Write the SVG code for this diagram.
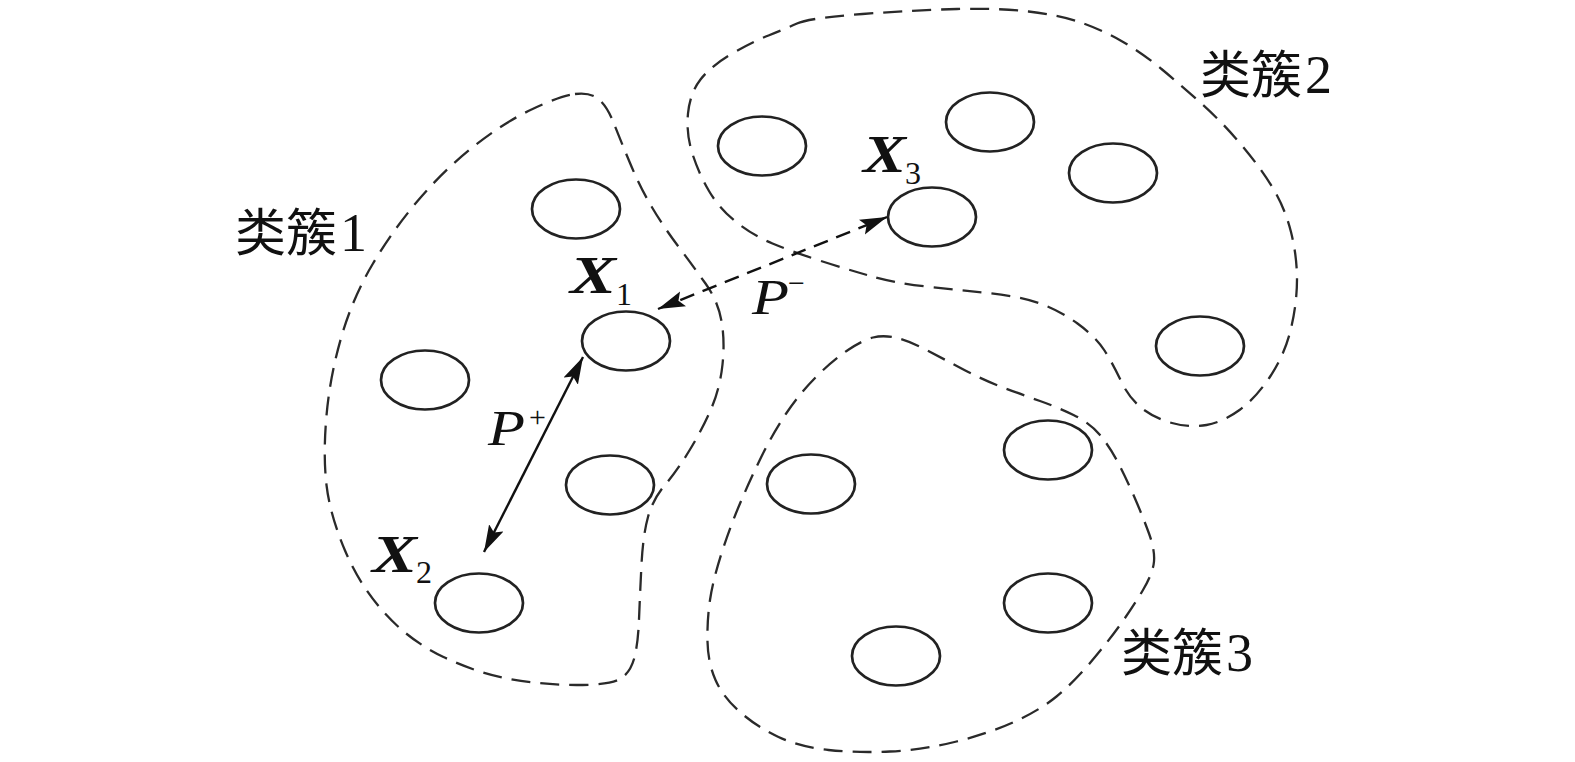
<svg xmlns="http://www.w3.org/2000/svg" width="1575" height="762" viewBox="0 0 1575 762">
<style>
.cl{fill:none;stroke:#2a2a2a;stroke-width:2.3;stroke-dasharray:19 10}
.el{fill:none;stroke:#222;stroke-width:2.7}
.ar{fill:none;stroke:#111;stroke-width:2.4}
.dash{stroke-dasharray:15 9}
.bx{font-family:"Liberation Serif",serif;font-weight:bold;font-style:italic;font-size:52px;fill:#111}
.it{font-family:"Liberation Serif",serif;font-style:italic;font-size:51px;fill:#111}
.sub{font-family:"Liberation Serif",serif;font-size:32px;fill:#111}
.sup{font-family:"Liberation Serif",serif;font-size:30px;fill:#111}
.lab{font-family:"Noto Sans CJK SC",sans-serif;font-size:51px;fill:#111}
.num{font-family:"Liberation Serif",serif;font-size:54px;fill:#111}
</style>
<defs>
<marker id="ah" markerUnits="userSpaceOnUse" markerWidth="30" markerHeight="18" refX="27" refY="8" orient="auto-start-reverse" viewBox="0 0 30 18">
<path d="M0,0 L27,8 L0,16 L5,8 z" fill="#111"/>
</marker>
</defs>
<g id="cluster1">
<path class="cl" d="M 575 94 Q 590 92 598.5 99 Q 607 106 613.5 122.5 Q 620 139 630 163 Q 640 187 651.5 206.5 Q 663 226 678 246 Q 693 266 705.5 283.5 Q 718 301 721.5 321 Q 725 341 722.5 364.5 Q 720 388 711.5 408 Q 703 428 690 449.5 Q 677 471 665 485 Q 653 499 648 517 Q 643 535 641.5 564.5 Q 640 594 639 619.5 Q 638 645 634 659 Q 630 673 620 679 Q 610 685 576.5 685 Q 543 685 510 679 Q 477 673 443.5 657 Q 410 641 385 613.5 Q 360 586 345 550.5 Q 330 515 326.5 485 Q 323 455 326.5 415.5 Q 330 376 341.5 336.5 Q 353 297 373 263.5 Q 393 230 418 200.5 Q 443 171 473 147 Q 503 123 531.5 109.5 Q 560 96 575 94 Z"/>
<text x="235" y="251"><tspan class="lab">类簇</tspan><tspan class="num" x="340" y="251">1</tspan></text>
</g>
<g id="cluster2">
<path class="cl" d="M 797 23.5 Q 809 18 862.5 14 Q 916 10 957 9 Q 998 8 1028.5 11.5 Q 1059 15 1079.5 22 Q 1100 29 1120.5 40.5 Q 1141 52 1161.5 69 Q 1182 86 1202.5 104.5 Q 1223 123 1241.5 145 Q 1260 167 1272.5 187.5 Q 1285 208 1291 232 Q 1297 256 1297 279.5 Q 1297 303 1291 328.5 Q 1285 354 1270.5 376 Q 1256 398 1239.5 410 Q 1223 422 1206.5 425 Q 1190 428 1172 423 Q 1154 418 1141.5 408 Q 1129 398 1121 381 Q 1113 364 1104.5 350.5 Q 1096 337 1077.5 323.5 Q 1059 310 1038.5 303 Q 1018 296 987.5 293 Q 957 290 926 286.5 Q 895 283 870.5 276 Q 846 269 819.5 260.5 Q 793 252 772.5 243.5 Q 752 235 735.5 221.5 Q 719 208 709 191 Q 699 174 692.5 154 Q 686 134 688 113.5 Q 690 93 700.5 79.5 Q 711 66 731.5 54 Q 752 42 768.5 35.5 Q 785 29 797 23.5 Z"/>
<text x="1200" y="93"><tspan class="lab">类簇</tspan><tspan class="num" x="1305" y="93">2</tspan></text>
</g>
<g id="cluster3">
<path class="cl" d="M 873 337.5 Q 883 335 895 337.5 Q 907 340 923.5 348.5 Q 940 357 961.5 368.5 Q 983 380 1003 387.5 Q 1023 395 1040 401 Q 1057 407 1073.5 415 Q 1090 423 1100 435 Q 1110 447 1118.5 463.5 Q 1127 480 1135 498.5 Q 1143 517 1149 533.5 Q 1155 550 1154 561.5 Q 1153 573 1143 590 Q 1133 607 1120 625 Q 1107 643 1090 663 Q 1073 683 1056.5 696.5 Q 1040 710 1015 721.5 Q 990 733 956.5 741.5 Q 923 750 890 751.5 Q 857 753 828.5 750 Q 800 747 778.5 737 Q 757 727 740 712 Q 723 697 715.5 680 Q 708 663 707.5 641.5 Q 707 620 710 600 Q 713 580 721.5 553.5 Q 730 527 740 503.5 Q 750 480 761.5 456.5 Q 773 433 786.5 413 Q 800 393 816.5 376.5 Q 833 360 848 350 Q 863 340 873 337.5 Z"/>
<text x="1121" y="671"><tspan class="lab">类簇</tspan><tspan class="num" x="1226" y="671">3</tspan></text>
</g>
<g id="c1-points">
<ellipse class="el" cx="576" cy="209" rx="44" ry="29.5"/>
<ellipse class="el" cx="425" cy="380" rx="44" ry="29.5"/>
<ellipse class="el" cx="610" cy="485" rx="44" ry="29.5"/>
</g>
<g id="X1">
<ellipse class="el" cx="626" cy="341" rx="44" ry="29.5"/>
<text><tspan class="bx" x="570" y="293" textLength="46" lengthAdjust="spacingAndGlyphs">X</tspan><tspan class="sub" x="616" y="305">1</tspan></text>
</g>
<g id="X2">
<ellipse class="el" cx="479" cy="603" rx="44" ry="29.5"/>
<text><tspan class="bx" x="372" y="572" textLength="45" lengthAdjust="spacingAndGlyphs">X</tspan><tspan class="sub" x="416" y="583">2</tspan></text>
</g>
<g id="c2-points">
<ellipse class="el" cx="762" cy="146" rx="44" ry="29.5"/>
<ellipse class="el" cx="990" cy="122" rx="44" ry="29.5"/>
<ellipse class="el" cx="1113" cy="173" rx="44" ry="29.5"/>
<ellipse class="el" cx="1200" cy="346" rx="44" ry="29.5"/>
</g>
<g id="X3">
<ellipse class="el" cx="932" cy="217" rx="44" ry="29.5"/>
<text><tspan class="bx" x="863" y="172" textLength="43" lengthAdjust="spacingAndGlyphs">X</tspan><tspan class="sub" x="905" y="184">3</tspan></text>
</g>
<g id="c3-points">
<ellipse class="el" cx="1048" cy="450" rx="44" ry="29.5"/>
<ellipse class="el" cx="811" cy="484" rx="44" ry="29.5"/>
<ellipse class="el" cx="1048" cy="603" rx="44" ry="29.5"/>
<ellipse class="el" cx="896" cy="656" rx="44" ry="29.5"/>
</g>
<g id="connectors">
<line class="ar" x1="583" y1="357" x2="484" y2="552" marker-start="url(#ah)" marker-end="url(#ah)"/>
<line class="ar dash" x1="658" y1="309" x2="887" y2="217" marker-start="url(#ah)" marker-end="url(#ah)"/>
<text><tspan class="it" x="488" y="445" textLength="37" lengthAdjust="spacingAndGlyphs">P</tspan><tspan class="sup" x="529" y="427">+</tspan></text>
<text><tspan class="it" x="752" y="314" textLength="37" lengthAdjust="spacingAndGlyphs">P</tspan><tspan class="sup" x="788" y="293">−</tspan></text>
</g>
</svg>
